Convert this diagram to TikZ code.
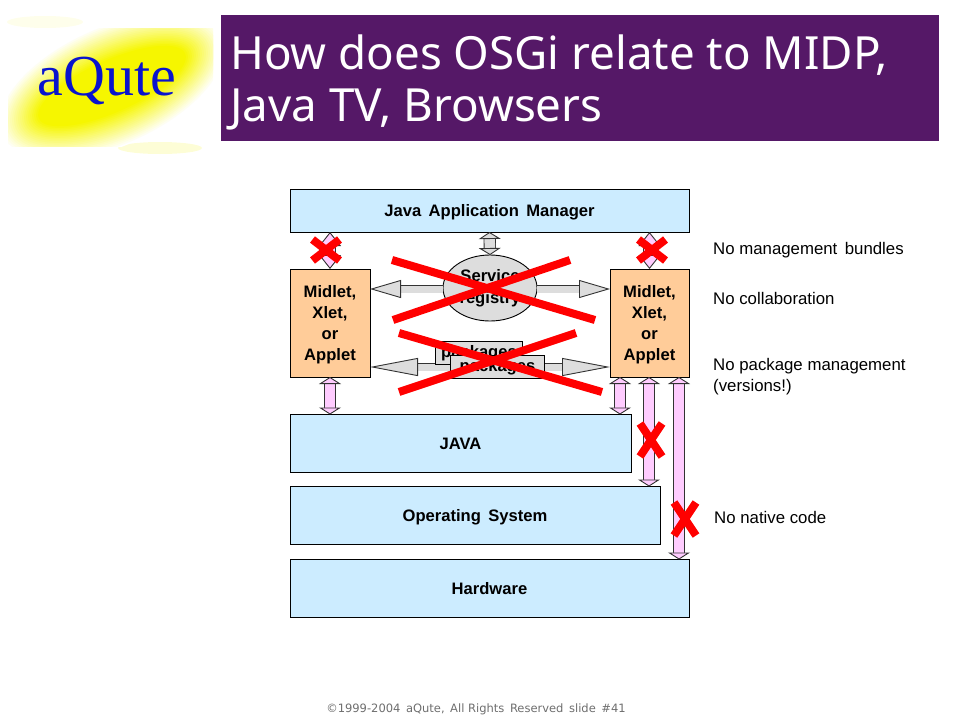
\documentclass[tikz,border=0pt]{standalone}
\usepackage{fontspec}
\setmainfont{Liberation Sans}
\newfontfamily\titlefont{Noto Sans}
\newfontfamily\logofont{Liberation Serif}
\newfontfamily\footfont{DejaVu Sans}
\usetikzlibrary{arrows.meta,backgrounds,shapes.geometric,shapes.misc}
\definecolor{titlepurple}{RGB}{85,24,103}
\definecolor{boxblue}{RGB}{204,236,255}
\definecolor{midletorange}{RGB}{255,204,153}
\definecolor{arrowpink}{RGB}{255,204,255}
\definecolor{arrowgray}{RGB}{221,221,221}
\definecolor{crossred}{RGB}{255,0,0}
\definecolor{footgray}{RGB}{110,110,110}
\definecolor{logoblue}{RGB}{10,20,205}
\definecolor{logoyellow}{RGB}{246,246,0}
\begin{document}
\begin{tikzpicture}[x=1pt,y=-1pt,
	layer/.style={draw,rectangle,fill=boxblue,line width=0.9pt,outer sep=0pt,text depth=0pt,font=\fontsize{16.6}{19}\selectfont\bfseries},
	midlet/.style={draw,rectangle,fill=midletorange,line width=0.9pt,outer sep=0pt,minimum width=80pt,minimum height=108pt,align=center,font=\fontsize{16.6}{21}\selectfont\bfseries},
	pkg/.style={draw,rectangle,fill=arrowgray,line width=0.9pt,outer sep=0pt,font=\fontsize{16.6}{19}\selectfont\bfseries},
	note/.style={anchor=west,inner sep=0pt,align=left,font=\fontsize{16.8}{21}\selectfont},
	pinkarrow/.style={draw=black!80,line width=0.9pt,double=arrowpink,double distance=10.5pt,{Triangle[length=#1,width=22pt,fill=arrowpink]}-{Triangle[length=#1,width=22pt,fill=arrowpink]}},
	grayarrow/.style={draw=black!80,line width=0.9pt,double=arrowgray,double distance=7pt,-{Triangle[length=#1,width=18pt,fill=arrowgray]}},
	bigcross/.style={draw=crossred,line width=8pt},
	smallcross/.style={cross out,draw=crossred,line width=8pt,inner sep=0pt,outer sep=0pt}]
	\useasboundingbox (0,0) rectangle (960,720);
	\fill[logoyellow!8] (45,22) ellipse (38 and 6);
	\fill[logoyellow!16] (160,148) ellipse (42 and 6);
	\begin{scope}
		\clip (8,28) rectangle (213,146);
		\foreach \k in {0,5,...,100}
			\fill[logoyellow!\k!white,rotate around={24:(112,86)}] (112,86) ellipse ({122-0.42*\k} and {60-0.34*\k});
	\end{scope}
	\node[text=logoblue,font=\fontsize{58}{58}\selectfont\logofont] (logo) at (107,81) {aQute};
	\node[rectangle,fill=titlepurple,text=white,minimum width=718pt,minimum height=126pt,inner sep=0pt,outer sep=0pt] (titlebar) at (580,78) {};
	\node[text=white,anchor=west,inner sep=0pt,align=left,font=\fontsize{45.7}{52}\selectfont\titlefont] (title) at (230,82) {How does OSGi relate to MIDP,\\Java TV, Browsers};
	\node[layer,minimum width=399pt,minimum height=43pt] (manager) at (489.5,210.5) {Java\, Application\, Manager};
	\node[midlet] (midletl) at (330,323) {\rule{0pt}{15.5pt}Midlet,\\Xlet,\hspace{3pt}\\or\\Applet};
	\node[midlet,minimum width=79pt] (midletr) at (649.5,323) {\rule{0pt}{15.5pt}Midlet,\\Xlet,\\or\\Applet};
	\node[layer,minimum width=341pt,minimum height=58pt] (java) at (460.5,443.5) {JAVA};
	\node[layer,minimum width=370pt,minimum height=58pt] (os) at (475,515.5) {Operating\, System};
	\node[layer,minimum width=399pt,minimum height=58pt] (hardware) at (489.5,588.5) {Hardware};
	\draw[pinkarrow=14pt] (manager.south -| midletl.north) -- (midletl.north);
	\draw[pinkarrow=14pt] (manager.south -| midletr.north) -- (midletr.north);
	\draw[pinkarrow=7pt] (midletl.south) -- (java.north -| midletl.south);
	\draw[pinkarrow=7pt] ([xshift=-11pt]java.north east |- midletr.south) -- ([xshift=-11pt]java.north east);
	\draw[pinkarrow=7pt] ([xshift=-11pt]os.north east |- midletr.south) -- ([xshift=-11pt]os.north east);
	\draw[pinkarrow=7pt] ([xshift=-10pt]hardware.north east |- midletr.south) -- ([xshift=-10pt]hardware.north east);
	\node[ellipse,draw,fill=arrowgray,line width=0.9pt,outer sep=0pt,minimum width=94pt,minimum height=66pt,inner sep=0pt,align=center,font=\fontsize{16.6}{22}\selectfont\bfseries] (registry) at (490,288) {Service\\registry};
	\draw[draw=black!80,line width=0.9pt,double=arrowgray,double distance=10.5pt,{Triangle[length=7pt,width=22pt,fill=arrowgray]}-{Triangle[length=7pt,width=22pt,fill=arrowgray]}] (manager.south) -- (registry.north);
	\draw[grayarrow=31pt] (registry.west |- 0,289) -- (midletl.east |- 0,289);
	\draw[grayarrow=31pt] (registry.east |- 0,289) -- (midletr.west |- 0,289);
	\node[pkg,minimum width=87pt,minimum height=22pt] (pkgback) at (479,353) {packages};
	\node[pkg,minimum width=94pt,minimum height=20pt] (pkgfront) at (497.5,367) {packages};
	\begin{scope}[on background layer]
		\draw[grayarrow=48pt] (pkgfront.west) -- (midletl.east |- pkgfront.west);
		\draw[grayarrow=48pt] (pkgfront.east) -- (midletr.west |- pkgfront.east);
	\end{scope}
	\coordinate (ca) at (392,260);
	\coordinate (cb) at (595,320);
	\coordinate (cc) at (570,260);
	\coordinate (cd) at (393,320);
	\coordinate (ce) at (399,333);
	\coordinate (cf) at (602,392);
	\coordinate (cg) at (576,333);
	\coordinate (ch) at (399,392);
	\draw[bigcross] (ca) -- (cb);
	\draw[bigcross] (cc) -- (cd);
	\draw[bigcross] (ce) -- (cf);
	\draw[bigcross] (cg) -- (ch);
	\node[smallcross,minimum width=27pt,minimum height=21pt] (xmanl) at (326,250) {};
	\node[smallcross,minimum width=27pt,minimum height=21pt] (xmanr) at (652,250) {};
	\node[smallcross,minimum width=22pt,minimum height=33pt] (xos) at (651,440) {};
	\node[smallcross,minimum width=22pt,minimum height=33pt] (xhw) at (685,519) {};
	\node[note] (nomanage) at (713,250) {No management\, bundles};
	\node[note] (nocollab) at (713,298) {No collaboration};
	\node[note] (nopkg) at (713,377) {No package management\\(versions!)};
	\node[note] (nonative) at (714,517) {No native code};
	\node[text=footgray,inner sep=0pt,font=\fontsize{11.5}{14}\selectfont\footfont] (footer) at (476,709) {©1999-2004\, aQute,\, All Rights\, Reserved\, slide\, \#41};
\end{tikzpicture}
\end{document}
